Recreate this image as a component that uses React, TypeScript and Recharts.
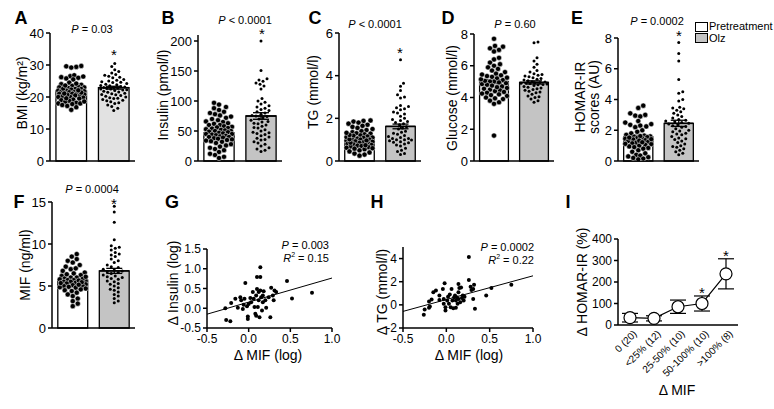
import React from "react";
import {
  ComposedChart,
  LineChart,
  Line,
  Scatter,
  XAxis,
  YAxis,
  ReferenceArea,
  ReferenceLine,
  ErrorBar,
} from "recharts";

const FONT = '"Liberation Sans", Arial, Helvetica, sans-serif';

// A: BMI
const bmiPre = [29.7, 29.4, 29.6, 29.2, 26.5, 26.2, 26.8, 26.0, 26.4, 25.8, 25.5, 24.5, 24.0, 23.8, 23.5, 23.2, 23.0, 23.0, 22.8, 22.5, 22.5, 22.3, 22.0, 22.0, 21.8, 21.7, 21.5, 21.5, 21.2, 21.0, 21.0, 20.8, 20.5, 20.5, 20.2, 20.0, 20.0, 19.8, 19.5, 19.2, 19.0, 18.8, 18.5, 18.2, 18.0, 18.0, 17.5, 17.2, 16.8, 16.0, 22.6, 21.4, 20.7, 19.6, 23.6, 22.1, 18.6, 24.2, 17.8, 21.1];
const bmiOlz = [30.5, 29.5, 28.5, 28.0, 27.5, 27.0, 26.8, 26.5, 26.0, 25.5, 25.0, 24.8, 24.5, 24.2, 24.0, 23.8, 23.5, 23.3, 23.0, 23.0, 22.8, 22.5, 22.5, 22.2, 22.0, 21.8, 21.5, 21.2, 21.0, 20.8, 20.5, 20.2, 20.0, 19.8, 19.5, 19.2, 19.0, 18.8, 18.5, 18.0, 17.5, 17.0, 16.5, 15.8, 23.6, 22.7, 21.6, 20.7, 24.6, 19.6, 25.2, 23.1, 18.2, 22.3, 26.2];
const bmiMeans = [21.9, 22.9];
const bmiSem = [0.35, 0.45];

// B: insulin
const insPre = [97, 94, 90, 88, 85, 82, 80, 78, 76, 74, 72, 70, 68, 66, 65, 63, 62, 60, 60, 58, 57, 56, 55, 54, 53, 52, 51, 50, 50, 49, 48, 47, 46, 45, 45, 44, 43, 42, 41, 40, 40, 39, 38, 37, 36, 35, 34, 33, 32, 30, 28, 26, 24, 22, 20, 18, 15, 12, 10, 7, 5];
const insOlz = [200, 151, 137, 135, 133, 130, 128, 125, 120, 104, 100, 98, 95, 92, 90, 88, 86, 84, 82, 80, 78, 76, 75, 74, 72, 70, 68, 66, 65, 63, 60, 58, 55, 52, 50, 48, 46, 44, 42, 40, 38, 35, 32, 30, 28, 25, 22, 20, 18, 16, 62, 56, 47, 36];
const insMeans = [47, 75];
const insSem = [2.5, 5.5];

// C: TG
const tgPre = [1.9, 1.88, 1.85, 1.8, 1.75, 1.7, 1.65, 1.6, 1.55, 1.5, 1.45, 1.4, 1.35, 1.3, 1.28, 1.25, 1.2, 1.18, 1.15, 1.1, 1.08, 1.05, 1.0, 1.0, 0.98, 0.95, 0.92, 0.9, 0.88, 0.85, 0.82, 0.8, 0.78, 0.75, 0.72, 0.7, 0.68, 0.65, 0.62, 0.6, 0.55, 0.5, 0.45, 0.4, 0.35, 0.3, 0.25, 1.12, 0.96, 0.86, 1.02, 1.22, 0.74, 1.32, 0.58];
const tgOlz = [4.75, 3.65, 3.5, 3.3, 3.1, 3.0, 2.95, 2.6, 2.55, 2.5, 2.45, 2.4, 2.3, 2.2, 2.1, 2.0, 1.95, 1.9, 1.85, 1.8, 1.75, 1.7, 1.6, 1.55, 1.5, 1.4, 1.3, 1.2, 1.15, 1.1, 1.05, 1.0, 1.0, 0.95, 0.9, 0.85, 0.8, 0.75, 0.7, 0.6, 0.5, 0.45, 0.35, 0.3, 1.25, 0.98, 1.35, 2.25, 1.05, 0.88];
const tgMeans = [1.0, 1.62];
const tgSem = [0.05, 0.11];

// D: glucose
const gluPre = [7.7, 7.25, 7.2, 7.1, 7.0, 6.9, 6.5, 6.4, 6.2, 6.0, 5.9, 5.8, 5.7, 5.6, 5.5, 5.4, 5.3, 5.2, 5.1, 5.0, 5.0, 4.95, 4.9, 4.85, 4.8, 4.7, 4.6, 4.55, 4.5, 4.45, 4.4, 4.3, 4.2, 4.1, 4.0, 3.9, 3.8, 3.7, 3.6, 1.6, 5.05, 4.75, 4.65, 5.35, 4.25, 5.15, 6.1, 4.35, 5.45, 4.15, 5.25, 3.95];
const gluOlz = [7.5, 7.45, 6.5, 6.3, 6.1, 5.9, 5.7, 5.6, 5.5, 5.45, 5.4, 5.3, 5.2, 5.15, 5.1, 5.05, 5.0, 4.98, 4.95, 4.9, 4.9, 4.88, 4.85, 4.8, 4.75, 4.7, 4.65, 4.6, 4.55, 4.5, 4.45, 4.4, 4.3, 4.2, 4.1, 4.0, 3.9, 3.8, 3.7, 5.35, 5.25, 4.92, 4.82, 4.35, 4.05];
const gluMeans = [5.0, 4.95];
const gluSem = [0.12, 0.1];

// E: HOMA-IR
const homaPre = [3.6, 3.45, 3.1, 3.0, 2.95, 2.9, 2.6, 2.5, 2.4, 2.35, 2.3, 2.25, 2.2, 2.0, 1.9, 1.8, 1.7, 1.65, 1.6, 1.58, 1.55, 1.5, 1.48, 1.45, 1.4, 1.35, 1.3, 1.25, 1.2, 1.15, 1.1, 1.05, 1.0, 0.95, 0.9, 0.85, 0.8, 0.7, 0.6, 0.5, 0.4, 0.35, 0.3, 0.25, 0.2, 0.15, 0.1, 1.62, 1.52, 1.42, 1.32, 1.22, 1.12];
const homaOlz = [7.7, 7.0, 6.5, 5.3, 4.5, 4.4, 4.0, 3.9, 3.5, 3.4, 3.3, 3.2, 3.1, 3.0, 2.9, 2.8, 2.7, 2.6, 2.55, 2.5, 2.45, 2.4, 2.35, 2.3, 2.2, 2.1, 2.0, 1.95, 1.9, 1.8, 1.7, 1.6, 1.5, 1.4, 1.3, 1.2, 1.1, 1.0, 0.9, 0.8, 0.7, 0.6, 0.5, 0.4, 2.25, 1.75, 1.45, 2.65, 3.45, 0.95];
const homaMeans = [1.58, 2.45];
const homaSem = [0.09, 0.2];

// F: MIF
const mifPre = [8.8, 8.5, 8.2, 8.0, 7.8, 7.5, 7.3, 7.0, 6.8, 6.6, 6.5, 6.3, 6.2, 6.0, 6.0, 5.9, 5.8, 5.7, 5.7, 5.6, 5.5, 5.5, 5.4, 5.3, 5.2, 5.1, 5.0, 5.0, 4.9, 4.8, 4.7, 4.6, 4.5, 4.4, 4.2, 4.0, 3.8, 3.5, 3.2, 2.9, 2.6, 5.85, 5.65, 5.45, 5.15, 6.1, 6.4, 4.85, 5.35, 7.1];
const mifOlz = [14.5, 13.8, 12.6, 10.5, 9.8, 9.6, 9.5, 9.3, 9.0, 8.8, 8.5, 8.2, 8.0, 7.8, 7.5, 7.3, 7.0, 6.9, 6.8, 6.6, 6.5, 6.3, 6.2, 6.0, 5.8, 5.6, 5.5, 5.3, 5.0, 4.8, 4.6, 4.5, 4.3, 4.0, 3.8, 3.5, 3.2, 3.0, 6.7, 5.9, 7.2, 8.7, 5.2, 6.1];
const mifMeans = [5.7, 6.8];
const mifSem = [0.15, 0.3];

// G: delta MIF vs delta insulin
const gMif = [-0.28, -0.27, -0.22, -0.21, -0.16, -0.13, -0.10, -0.09, -0.05, -0.04, -0.06, -0.02, -0.01, -0.01, 0.0, 0.02, 0.03, 0.05, 0.06, 0.07, 0.08, 0.09, 0.09, 0.1, 0.1, 0.11, 0.12, 0.12, 0.13, 0.14, 0.14, 0.14, 0.15, 0.16, 0.17, 0.17, 0.18, 0.2, 0.21, 0.24, 0.26, 0.27, 0.29, 0.3, 0.31, 0.33, 0.46, 0.52, 0.76, -0.07];
const gIns = [0.0, -0.30, -0.33, 0.13, 0.24, 0.01, 0.28, 0.2, 0.24, 0.64, 0.09, 0.05, -0.21, -0.27, 0.11, 0.26, 0.15, 0.41, 0.24, 0.03, -0.14, 0.32, -0.19, 0.49, 0.79, 0.03, 0.2, 0.41, -0.23, 1.04, 0.79, 0.45, 0.28, -0.06, 0.15, 0.32, 0.43, 0.2, 0.01, 0.28, -0.23, 0.52, 0.32, 0.2, 0.45, 0.41, 0.69, 0.25, 0.39, -0.02];
const gFit = [0.155, 0.61]; // intercept, slope

// H: delta MIF vs delta TG
const hMif = [-0.26, -0.25, -0.2, -0.19, -0.2, -0.17, -0.15, -0.12, -0.08, -0.08, -0.04, -0.03, -0.03, -0.02, -0.01, -0.01, 0.01, 0.02, 0.03, 0.04, 0.05, 0.06, 0.07, 0.08, 0.09, 0.1, 0.11, 0.11, 0.12, 0.13, 0.14, 0.14, 0.14, 0.15, 0.16, 0.17, 0.18, 0.19, 0.2, 0.21, 0.26, 0.26, 0.28, 0.29, 0.31, 0.31, 0.32, 0.33, 0.46, 0.52, 0.75];
const hTg = [-0.86, -0.4, -0.26, -0.14, 0.29, 0.46, 1.09, 1.23, 0.8, 0.43, 1.37, 0.51, 0.09, 1.86, -0.2, -0.49, 0.37, 0.71, 0.09, 0.89, -0.2, 1.37, 0.37, -0.29, 0.66, 0.8, -0.26, 0.37, 0.66, 0.09, 1.09, 1.8, 0.51, 1.46, 0.23, 1.51, 0.6, 0.8, 0.37, 0.71, 4.14, 2.14, 1.57, 1.29, 0.51, 1.37, 1.74, -0.34, 0.8, 1.46, 1.74];
const hFit = [0.46, 2.05];

// I: delta HOMA-IR by delta MIF group
const iGroups = ["0 (20)", "<25% (12)", "25-50% (10)", "50-100% (10)", ">100% (8)"];
const iMeans = [34, 31, 85, 100, 238];
const iErr = [20, 12, 31, 35, 70];

function swarm(vals: number[], pxPerUnit: number, d: number, maxHalf: number): number[] {
  const order = vals.map((_, i) => i).sort((a, b) => vals[a] - vals[b]);
  const placed: { x: number; y: number }[] = [];
  const out: number[] = new Array(vals.length).fill(0);
  const cands: number[] = [0];
  for (let k = 1; k <= maxHalf; k++) cands.push(k, -k);
  for (const i of order) {
    const y = vals[i] * pxPerUnit;
    let best = 0;
    let bestScore = -1;
    for (const c of cands) {
      let minD = Infinity;
      for (const p of placed) {
        const dy = p.y - y;
        if (Math.abs(dy) >= d) continue;
        const dd = Math.hypot(p.x - c, dy);
        if (dd < minD) minD = dd;
      }
      if (minD >= d) {
        best = c;
        break;
      }
      if (minD > bestScore) {
        bestScore = minD;
        best = c;
      }
    }
    placed.push({ x: best, y });
    out[i] = best;
  }
  return out;
}

const axisLine = { stroke: "#000", strokeWidth: 1.5 };

type Rect = { x0: number; x1: number; y0: number; y1: number };

function BarPanel(props: {
  r: Rect;
  max: number;
  ticks: number[];
  pre: number[];
  olz: number[];
  means: number[];
  sems: number[];
  olzFill: string;
}) {
  const { r, max, ticks, pre, olz, means, sems, olzFill } = props;
  const YW = 34;
  const top = 8;
  const bottom = 10;
  const width = r.x1 - r.x0 + YW + 4;
  const height = r.y1 - r.y0 + top + 2 + bottom;
  const pxY = (r.y1 - r.y0) / max;
  const dxPre = swarm(pre, pxY, 5.0, 13);
  const dxOlz = swarm(olz, pxY, 4.0, 13);
  const preData = pre.map((v, i) => ({ x: 0, y: v, dx: dxPre[i] }));
  const olzData = olz.map((v, i) => ({ x: 1, y: v, dx: dxOlz[i] }));
  const meanData = means.map((m, i) => ({ x: i, y: m, e: sems[i] }));
  return (
    <div style={{ position: "absolute", left: r.x0 - YW, top: r.y0 - top }}>
      <ComposedChart width={width} height={height} margin={{ top, right: 4, bottom, left: 0 }}>
        <XAxis
          type="number"
          dataKey="x"
          domain={[-0.5, 1.5]}
          tick={false}
          tickLine={false}
          axisLine={axisLine}
          height={2}
        />
        <YAxis
          type="number"
          dataKey="y"
          domain={[0, max]}
          ticks={ticks}
          interval={0}
          width={YW}
          tickSize={4}
          axisLine={axisLine}
          tickLine={axisLine}
          tick={{ fontSize: 13, fill: "#000", fontFamily: FONT }}
          allowDataOverflow
        />
        <ReferenceArea x1={-0.36} x2={0.36} y1={0} y2={means[0]} fill="#fff" fillOpacity={1} stroke="#000" strokeWidth={1.3} />
        <ReferenceArea x1={0.64} x2={1.36} y1={0} y2={means[1]} fill={olzFill} fillOpacity={1} stroke="#000" strokeWidth={1.3} />
        <Scatter
          data={preData}
          isAnimationActive={false}
          shape={(p: any) => (
            <circle cx={p.cx + p.payload.dx} cy={p.cy} r={2.6} fill="#000" stroke="#fff" strokeWidth={0.5} />
          )}
        />
        <Scatter
          data={olzData}
          isAnimationActive={false}
          shape={(p: any) => <circle cx={p.cx + p.payload.dx} cy={p.cy} r={1.5} fill="#000" />}
        />
        <Scatter data={meanData} isAnimationActive={false} shape={() => <g />}>
          <ErrorBar dataKey="e" direction="y" width={8} stroke="#000" strokeWidth={1.3} />
        </Scatter>
        <ReferenceLine segment={[{ x: -0.36, y: means[0] }, { x: 0.36, y: means[0] }]} stroke="#000" strokeWidth={1.6} />
        <ReferenceLine segment={[{ x: 0.64, y: means[1] }, { x: 1.36, y: means[1] }]} stroke="#000" strokeWidth={1.6} />
      </ComposedChart>
    </div>
  );
}

function CorrPanel(props: {
  r: Rect;
  xs: number[];
  ys: number[];
  yDomain: [number, number];
  yTicks: number[];
  yFmt: (v: number) => string;
  fit: number[];
}) {
  const { r, xs, ys, yDomain, yTicks, yFmt, fit } = props;
  const YW = 34;
  const top = 8;
  const XH = 22;
  const width = r.x1 - r.x0 + YW + 14;
  const height = r.y1 - r.y0 + top + XH;
  const pts = xs.map((x, i) => ({ x, y: ys[i] }));
  const xa = -0.5;
  const xb = 1.0;
  return (
    <div style={{ position: "absolute", left: r.x0 - YW, top: r.y0 - top }}>
      <ComposedChart width={width} height={height} margin={{ top, right: 14, bottom: 0, left: 0 }}>
        <XAxis
          type="number"
          dataKey="x"
          domain={[xa, xb]}
          ticks={[-0.5, 0, 0.5, 1.0]}
          interval={0}
          tickFormatter={(v: number) => v.toFixed(1)}
          tickSize={4}
          axisLine={axisLine}
          tickLine={axisLine}
          tick={{ fontSize: 12, fill: "#000", fontFamily: FONT }}
          height={XH}
        />
        <YAxis
          type="number"
          dataKey="y"
          domain={yDomain}
          ticks={yTicks}
          interval={0}
          tickFormatter={yFmt}
          width={YW}
          tickSize={4}
          axisLine={axisLine}
          tickLine={axisLine}
          tick={{ fontSize: 12, fill: "#000", fontFamily: FONT }}
          allowDataOverflow
        />
        <ReferenceLine
          segment={[
            { x: xa, y: fit[0] + fit[1] * xa },
            { x: xb, y: fit[0] + fit[1] * xb },
          ]}
          stroke="#000"
          strokeWidth={1}
        />
        <Scatter data={pts} isAnimationActive={false} shape={(p: any) => <circle cx={p.cx} cy={p.cy} r={2} fill="#000" />} />
      </ComposedChart>
    </div>
  );
}

function IPanel() {
  const r = { x0: 618, x1: 738, y0: 239, y1: 325 };
  const YW = 34;
  const top = 8;
  const XH = 60;
  const data = iGroups.map((name, i) => ({ name, v: iMeans[i], err: iErr[i] }));
  return (
    <div style={{ position: "absolute", left: r.x0 - YW, top: r.y0 - top }}>
      <LineChart
        width={r.x1 - r.x0 + YW + 6}
        height={r.y1 - r.y0 + top + XH}
        data={data}
        margin={{ top, right: 6, bottom: 0, left: 0 }}
      >
        <XAxis
          dataKey="name"
          interval={0}
          padding={{ left: 12, right: 12 }}
          axisLine={axisLine}
          tickLine={false}
          tickSize={0}
          height={XH}
          tick={(p: any) => {
            const ax = p.x + 5;
            const ay = r.y1 - r.y0 + top + 7;
            return (
              <text
                x={ax}
                y={ay}
                transform={`rotate(-45, ${ax}, ${ay})`}
                textAnchor="end"
                dominantBaseline="central"
                fontSize={10}
                fontFamily={FONT}
                fill="#000"
              >
                {p.payload.value}
              </text>
            );
          }}
        />
        <YAxis
          domain={[0, 400]}
          ticks={[0, 100, 200, 300, 400]}
          interval={0}
          width={YW}
          tickSize={4}
          axisLine={axisLine}
          tickLine={axisLine}
          tick={{ fontSize: 12, fill: "#000", fontFamily: FONT }}
        />
        <Line
          dataKey="v"
          stroke="#000"
          strokeWidth={1.2}
          isAnimationActive={false}
          dot={(p: any) => <circle key={p.index} cx={p.cx} cy={p.cy} r={6} fill="#fff" stroke="#000" strokeWidth={1.2} />}
        >
          <ErrorBar dataKey="err" direction="y" width={8} stroke="#000" strokeWidth={1.2} />
        </Line>
      </LineChart>
    </div>
  );
}

function T(props: { x: number; y: number; size?: number; bold?: boolean; anchor?: "c" | "l" | "r"; children: React.ReactNode }) {
  const { x, y, size = 11, bold, anchor = "c", children } = props;
  const tx = anchor === "c" ? "-50%" : anchor === "r" ? "-100%" : "0";
  return (
    <div
      style={{
        position: "absolute",
        left: x,
        top: y,
        transform: `translate(${tx}, -50%)`,
        fontSize: size,
        fontWeight: bold ? 700 : 400,
        whiteSpace: "nowrap",
        lineHeight: 1,
      }}
    >
      {children}
    </div>
  );
}

function VT(props: { x: number; y: number; size?: number; children: React.ReactNode }) {
  const { x, y, size = 14, children } = props;
  return (
    <div
      style={{
        position: "absolute",
        left: x,
        top: y,
        transform: "translate(-50%, -50%) rotate(-90deg)",
        fontSize: size,
        whiteSpace: "nowrap",
        lineHeight: 1,
      }}
    >
      {children}
    </div>
  );
}

const P = (props: { t: string }) => (
  <span>
    <i>P</i> {props.t}
  </span>
);

export default function App() {
  const gray = "#c4c4c4";
  return (
    <div
      style={{
        position: "absolute",
        left: 0,
        top: 0,
        width: 774,
        height: 409,
        background: "#fff",
        fontFamily: FONT,
        color: "#000",
        overflow: "hidden",
      }}
    >
      <BarPanel r={{ x0: 50, x1: 135, y0: 33, y1: 161 }} max={40} ticks={[0, 10, 20, 30, 40]} pre={bmiPre} olz={bmiOlz} means={bmiMeans} sems={bmiSem} olzFill="#e2e2e2" />
      <BarPanel r={{ x0: 198, x1: 282, y0: 35, y1: 161 }} max={210} ticks={[0, 50, 100, 150, 200]} pre={insPre} olz={insOlz} means={insMeans} sems={insSem} olzFill={gray} />
      <BarPanel r={{ x0: 339, x1: 421, y0: 33, y1: 161 }} max={6} ticks={[0, 2, 4, 6]} pre={tgPre} olz={tgOlz} means={tgMeans} sems={tgSem} olzFill={gray} />
      <BarPanel r={{ x0: 474, x1: 554, y0: 34, y1: 161 }} max={8} ticks={[0, 2, 4, 6, 8]} pre={gluPre} olz={gluOlz} means={gluMeans} sems={gluSem} olzFill={gray} />
      <BarPanel r={{ x0: 618, x1: 699, y0: 38, y1: 161 }} max={8} ticks={[0, 2, 4, 6, 8]} pre={homaPre} olz={homaOlz} means={homaMeans} sems={homaSem} olzFill={gray} />
      <BarPanel r={{ x0: 52, x1: 135, y0: 202, y1: 328 }} max={15} ticks={[0, 5, 10, 15]} pre={mifPre} olz={mifOlz} means={mifMeans} sems={mifSem} olzFill={gray} />
      <CorrPanel r={{ x0: 207, x1: 332, y0: 249, y1: 328 }} xs={gMif} ys={gIns} yDomain={[-0.5, 1.5]} yTicks={[-0.5, 0, 0.5, 1.0, 1.5]} yFmt={(v) => v.toFixed(1)} fit={gFit} />
      <CorrPanel r={{ x0: 403, x1: 533, y0: 247, y1: 328 }} xs={hMif} ys={hTg} yDomain={[-2, 5]} yTicks={[-2, 0, 2, 4]} yFmt={(v) => String(v)} fit={hFit} />
      <IPanel />

      {/* panel letters */}
      <T x={21} y={18} size={18} bold>A</T>
      <T x={168} y={18} size={18} bold>B</T>
      <T x={315} y={18} size={18} bold>C</T>
      <T x={448} y={18} size={18} bold>D</T>
      <T x={577} y={18} size={18} bold>E</T>
      <T x={19} y={202} size={18} bold>F</T>
      <T x={172} y={202} size={18} bold>G</T>
      <T x={377} y={202} size={18} bold>H</T>
      <T x={568} y={202} size={18} bold>I</T>

      {/* P values and stars */}
      <T x={92} y={29}><P t="= 0.03" /></T>
      <T x={245} y={20}><P t="< 0.0001" /></T>
      <T x={375} y={24}><P t="< 0.0001" /></T>
      <T x={515} y={24}><P t="= 0.60" /></T>
      <T x={657} y={21}><P t="= 0.0002" /></T>
      <T x={92} y={189}><P t="= 0.0004" /></T>
      <T x={114} y={54} size={15}>*</T>
      <T x={262} y={33} size={15}>*</T>
      <T x={400} y={52} size={15}>*</T>
      <T x={679} y={35} size={15}>*</T>
      <T x={114} y={203} size={15}>*</T>
      <T x={702} y={292} size={15}>*</T>
      <T x={726} y={255} size={15}>*</T>

      {/* correlation stats */}
      <T x={329} y={245} anchor="r"><P t="= 0.003" /></T>
      <T x={329} y={257} anchor="r"><span><i>R</i><sup style={{ fontSize: 7 }}>2</sup> = 0.15</span></T>
      <T x={534} y={247} anchor="r"><P t="= 0.0002" /></T>
      <T x={534} y={259} anchor="r"><span><i>R</i><sup style={{ fontSize: 7 }}>2</sup> = 0.22</span></T>

      {/* axis titles */}
      <VT x={22} y={93}>BMI (kg/m²)</VT>
      <VT x={163} y={95}>Insulin (pmol/l)</VT>
      <VT x={313} y={92}>TG (mmol/l)</VT>
      <VT x={452} y={98}>Glucose (mmol/l)</VT>
      <VT x={580} y={97}>HOMAR-IR</VT>
      <VT x={594} y={97}>scores (AU)</VT>
      <VT x={25} y={265}>MIF (ng/ml)</VT>
      <VT x={173} y={283}>Δ Insulin (log)</VT>
      <VT x={382} y={292}>Δ TG (mmol/l)</VT>
      <VT x={582} y={282}>Δ HOMAR-IR (%)</VT>
      <T x={268} y={355} size={14}>Δ MIF (log)</T>
      <T x={469} y={355} size={14}>Δ MIF (log)</T>
      <T x={677} y={390} size={14}>Δ MIF</T>

      {/* legend */}
      <div style={{ position: "absolute", left: 695, top: 22, width: 11, height: 8, border: "1px solid #000", background: "#fff" }} />
      <T x={709} y={26} size={11} anchor="l">Pretreatment</T>
      <div style={{ position: "absolute", left: 695, top: 33, width: 11, height: 8, border: "1px solid #000", background: gray }} />
      <T x={709} y={38} size={11} anchor="l">Olz</T>
    </div>
  );
}
